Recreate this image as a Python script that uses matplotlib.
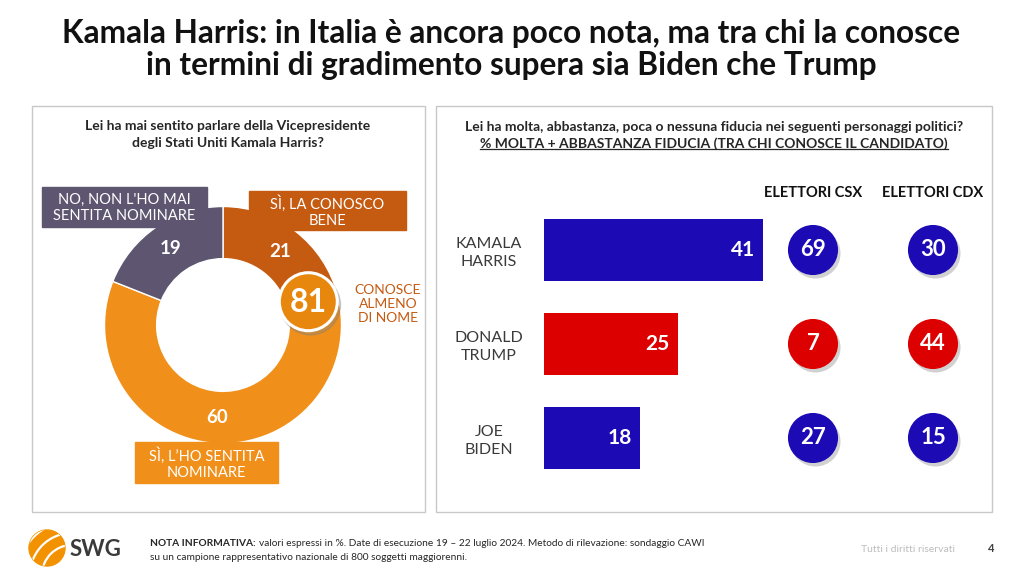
import numpy as np
import matplotlib
matplotlib.use('Agg')
import matplotlib.pyplot as plt
from matplotlib.patches import Rectangle, Circle, Arc
import matplotlib.transforms as mtransforms

plt.rcParams['font.family'] = ['Lato', 'DejaVu Sans']

# --- data ---
title_lines = ["Kamala Harris: in Italia è ancora poco nota, ma tra chi la conosce",
               "in termini di gradimento supera sia Biden che Trump"]

awareness_labels = ["SÌ, LA CONOSCO\nBENE", "SÌ, L’HO SENTITA\nNOMINARE", "NO, NON L'HO MAI\nSENTITA NOMINARE"]
awareness_values = [21, 60, 19]
awareness_colors = ['#C55A11', '#F0901A', '#5E5570']

candidates = ["KAMALA\nHARRIS", "DONALD\nTRUMP", "JOE\nBIDEN"]
trust_total = [41, 25, 18]
trust_csx = [69, 7, 27]
trust_cdx = [30, 44, 15]
voter_groups = ["ELETTORI CSX", "ELETTORI CDX"]
candidate_colors = ['#1C0BB5', '#DC0000', '#1C0BB5']

W, H = 1024, 576
fig = plt.figure(figsize=(W / 100, H / 100), dpi=100)


def px_axes(x0, y0, x1, y1, **kw):
    # axes placed with pixel coords measured from the top-left corner
    return fig.add_axes([x0 / W, 1 - y1 / H, (x1 - x0) / W, (y1 - y0) / H], **kw)


def overlay(z):
    a = fig.add_axes([0, 0, 1, 1], zorder=z)
    a.set_xlim(0, W)
    a.set_ylim(H, 0)
    a.axis('off')
    a.patch.set_alpha(0)
    return a


bg = overlay(0)

# title
bg.text(511, 33, title_lines[0], ha='center', va='center', fontsize=22.8, fontweight='bold', color='#111111')
bg.text(511, 65, title_lines[1], ha='center', va='center', fontsize=22.8, fontweight='bold', color='#111111')

# panel frames
bg.add_patch(Rectangle((32, 106), 393, 406, fill=False, ec='#C8C8C8', lw=1))
bg.add_patch(Rectangle((436, 106), 556, 406, fill=False, ec='#C8C8C8', lw=1))

# ---------- left panel: donut ----------
bg.text(228, 126, "Lei ha mai sentito parlare della Vicepresidente", ha='center', va='center',
        fontsize=10, fontweight='bold', color='#262626')
bg.text(228, 143, "degli Stati Uniti Kamala Harris?", ha='center', va='center',
        fontsize=10, fontweight='bold', color='#262626')

cx, cy, R = 223, 325, 118.5
pax = px_axes(cx - R, cy - R, cx + R, cy + R, zorder=1)
wedges, _ = pax.pie(awareness_values, colors=awareness_colors, startangle=90, counterclock=False,
                    radius=1, wedgeprops=dict(width=0.44, edgecolor='white', linewidth=1))
pax.set_xlim(-1, 1)
pax.set_ylim(-1, 1)
for w, v in zip(wedges, awareness_values):
    ang = np.deg2rad((w.theta1 + w.theta2) / 2)
    pax.text(0.78 * np.cos(ang), 0.78 * np.sin(ang), str(v), ha='center', va='center',
             color='white', fontsize=13.5, fontweight='bold')

fg = overlay(5)

# category label boxes
label_boxes = [(249, 191, 157, 39), (135, 442, 143, 41), (42, 187, 165, 40)]
for (x, y, w, h), lab, col in zip(label_boxes, awareness_labels, awareness_colors):
    fg.add_patch(Rectangle((x, y), w, h, color=col, zorder=3))
    fg.text(x + w / 2, y + h / 2 + 1, lab, ha='center', va='center', color='white',
            fontsize=10.5, linespacing=1.2, zorder=4)

# "conosce almeno di nome" badge
known = awareness_values[0] + awareness_values[1]
fg.add_patch(Circle((310.5, 305), 30, color='#7F7F7F', alpha=0.35, zorder=5))
fg.add_patch(Circle((308.3, 301.7), 29, fc='#E8870E', ec='white', lw=2.2, zorder=6))
fg.text(308.3, 303, str(known), ha='center', va='center', color='white', fontsize=23,
        fontweight='bold', zorder=7)
fg.text(388, 304, "CONOSCE\nALMENO\nDI NOME", ha='center', va='center', color='#C55A11',
        fontsize=10, linespacing=1.15)

# ---------- right panel: bars + circles ----------
fg.text(714, 127, "Lei ha molta, abbastanza, poca o nessuna fiducia nei seguenti personaggi politici?",
        ha='center', va='center', fontsize=10, fontweight='bold', color='#262626')
sub2 = fg.text(714, 144, "% MOLTA + ABBASTANZA FIDUCIA (TRA CHI CONOSCE IL CANDIDATO)",
               ha='center', va='center', fontsize=10, fontweight='bold', color='#262626')

scale = 5.35  # px per percentage point
bax = px_axes(544, 203, 544 + 43 * scale, 485, zorder=2)
bax.barh(range(len(candidates)), trust_total, height=0.66, color=candidate_colors)
bax.set_xlim(0, 43)
bax.set_ylim(2.5, -0.5)
for i, v in enumerate(trust_total):
    bax.annotate(str(v), (v, i), xytext=(-8, 0), textcoords='offset pixels', ha='right', va='center',
                 color='white', fontsize=15, fontweight='bold')
bax.set_yticks(range(len(candidates)), candidates)
bax.tick_params(axis='y', length=0, pad=39.6)
for t in bax.get_yticklabels():
    t.set_ha('center')
    t.set_multialignment('center')
    t.set_fontsize(11.5)
    t.set_color('#3A3A3A')
    t.set_linespacing(1.3)
bax.set_xticks([])
for s in bax.spines.values():
    s.set_visible(False)
bax.patch.set_alpha(0)

cax = px_axes(753, 203, 993, 485, zorder=2)
cax.set_xlim(-0.5, 1.5)
cax.set_ylim(2.5, -0.5)
shadow = mtransforms.offset_copy(cax.transData, fig=fig, x=2, y=-3, units='dots')
ys = np.arange(len(candidates))
for j, vals in enumerate([trust_csx, trust_cdx]):
    xs = np.full(len(vals), j)
    cax.scatter(xs, ys, s=1300, color='#9A9A9A', alpha=0.45, transform=shadow, zorder=2, linewidths=0)
    cax.scatter(xs, ys, s=1300, color=candidate_colors, zorder=3, linewidths=0)
    for i, v in enumerate(vals):
        cax.text(j, i, str(v), ha='center', va='center', color='white', fontsize=16,
                 fontweight='bold', zorder=4)
cax.xaxis.tick_top()
cax.set_xticks(range(len(voter_groups)), voter_groups, fontsize=10.5, fontweight='bold', color='#111111')
cax.tick_params(axis='x', length=0, pad=2)
cax.set_yticks([])
for s in cax.spines.values():
    s.set_visible(False)
cax.patch.set_alpha(0)

# ---------- footer ----------
fg.add_patch(Circle((47, 548), 18, color='#F39200', zorder=2))
for r in (30, 42, 54):
    arc = Arc((72, 575), 2 * r, 2 * r, theta1=0, theta2=360, color='white', lw=1.6, zorder=3)
    fg.add_patch(arc)
    arc.set_clip_path(Circle((47, 548), 18, transform=fg.transData))
fg.text(70, 549, "SWG", ha='left', va='center', fontsize=16, fontweight='bold', color='#3A3A3A')

fig.canvas.draw()
rend = fig.canvas.get_renderer()
inv = fg.transData.inverted()

# underline for the second right-panel subtitle
bb = sub2.get_window_extent(rend)
(ux0, uy0), (ux1, uy1) = inv.transform([[bb.x0, bb.y0], [bb.x1, bb.y0]])
fg.plot([ux0, ux1], [uy0 - 1, uy1 - 1], color='#262626', lw=0.9)

nota = fg.text(150, 543, "NOTA INFORMATIVA:", ha='left', va='center', fontsize=7.3, fontweight='bold',
               color='#262626')
nb = nota.get_window_extent(rend)
nx = inv.transform([[nb.x1, nb.y0]])[0][0]
fg.text(nx + 3, 543, "valori espressi in %. Date di esecuzione 19 – 22 luglio 2024. Metodo di rilevazione: sondaggio CAWI",
        ha='left', va='center', fontsize=7.3, color='#262626')
fg.text(150, 557, "su un campione rappresentativo nazionale di 800 soggetti maggiorenni.",
        ha='left', va='center', fontsize=7.3, color='#262626')
fg.text(955, 549, "Tutti i diritti riservati", ha='right', va='center', fontsize=7.5, color='#BDBDBD')
fg.text(991, 549, "4", ha='center', va='center', fontsize=8, fontweight='bold', color='#404040')

fig.savefig('out.png', dpi=100)
